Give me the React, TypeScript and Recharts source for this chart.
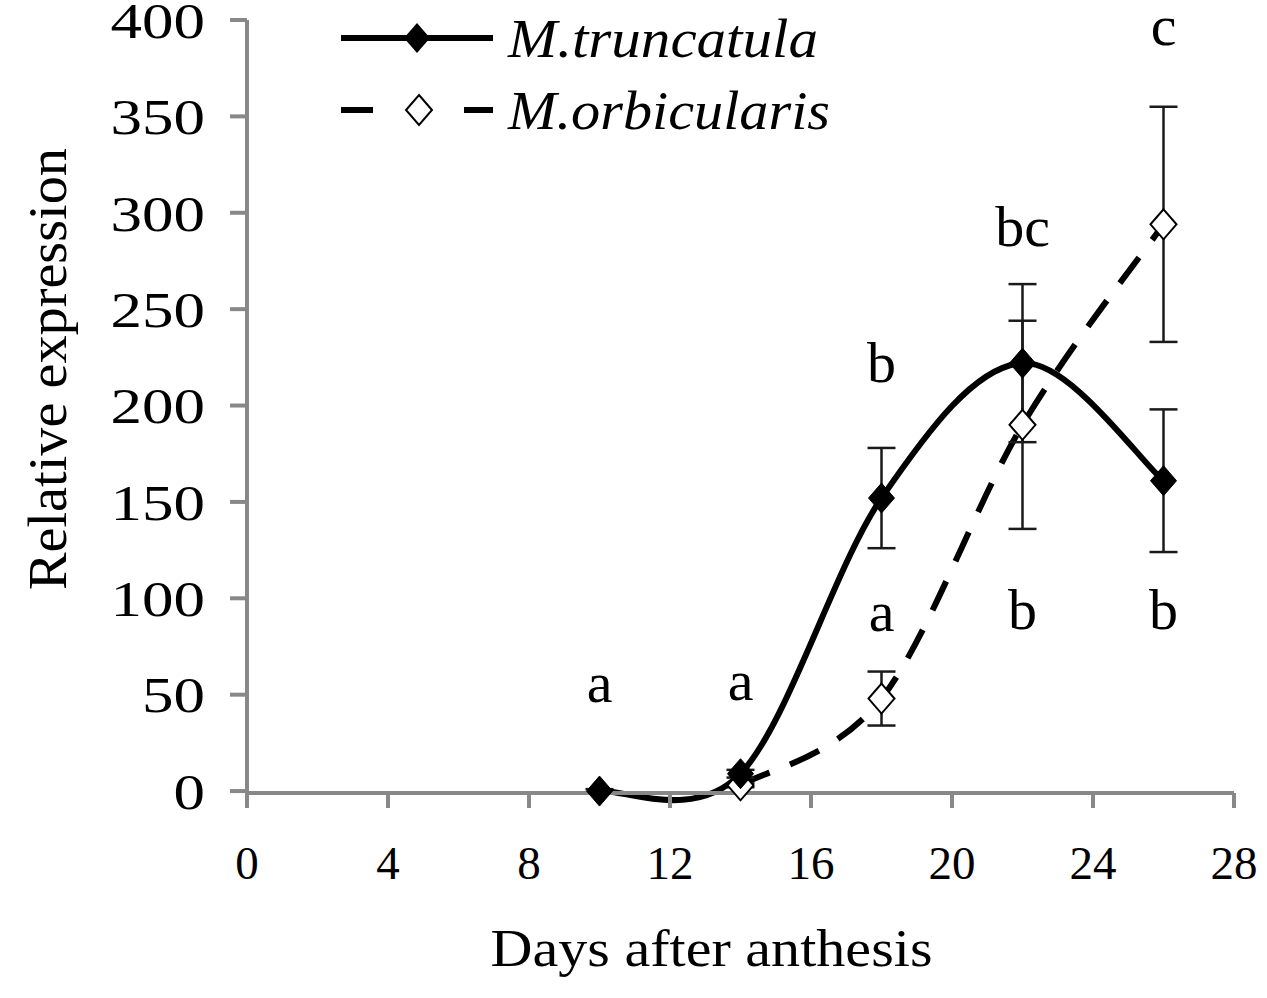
import React from 'react';
import { ComposedChart, Line, Scatter, ErrorBar, XAxis, YAxis, Legend } from 'recharts';

const days = [10, 14, 18, 22, 26];
const truncatula = [0, 9, 152, 222, 161];
const truncatulaErr = [1, 2, 26, 41, 37];
const orbDays = [14, 18, 22, 26];
const orbicularis = [3, 48, 190, 294];
const orbicularisErr = [1, 14, 54, 61];

const letterDays = [10, 14, 18, 18, 22, 22, 26, 26];
const letterValues = [46, 47, 212, 83, 283, 84, 387, 84];
const letterTexts = ['a', 'a', 'b', 'a', 'bc', 'b', 'c', 'b'];

const xTicks = [0, 4, 8, 12, 16, 20, 24, 28];
const yTicks = [0, 50, 100, 150, 200, 250, 300, 350, 400];

const SERIF = '"Liberation Serif", "Times New Roman", serif';
const AXIS_GRAY = '#888888';

const mtRows = days.map((d, i) => ({ day: d, mt: truncatula[i], mtErr: truncatulaErr[i] }));
const moRows = orbDays.map((d, i) => ({ day: d, mo: orbicularis[i], moErr: orbicularisErr[i] }));
const letterRows = letterDays.map((d, i) => ({ day: d, v: letterValues[i], text: letterTexts[i] }));

// excel-like smoothed line (catmull-rom through every point)
const excelSmooth = (context: any) => {
    let pts: number[][] = [];
    return {
        areaStart() {},
        areaEnd() {},
        lineStart() {
            pts = [];
        },
        point(x: number, y: number) {
            pts.push([+x, +y]);
        },
        lineEnd() {
            const n = pts.length;
            if (n === 0) return;
            context.moveTo(pts[0][0], pts[0][1]);
            for (let i = 0; i < n - 1; i++) {
                const p0 = pts[Math.max(i - 1, 0)];
                const p1 = pts[i];
                const p2 = pts[i + 1];
                const p3 = pts[Math.min(i + 2, n - 1)];
                context.bezierCurveTo(
                    p1[0] + (p2[0] - p0[0]) / 6,
                    p1[1] + (p2[1] - p0[1]) / 6,
                    p2[0] - (p3[0] - p1[0]) / 6,
                    p2[1] - (p3[1] - p1[1]) / 6,
                    p2[0],
                    p2[1]
                );
            }
        },
    };
};

const diamond = (cx: number, cy: number, w = 13, h = 15) =>
    `M${cx},${cy - h}L${cx + w},${cy}L${cx},${cy + h}L${cx - w},${cy}Z`;

const FilledDot = (props: any) => {
    const { cx, cy, index } = props;
    if (cx == null || cy == null) return <g key={`f${index}`} />;
    return <path key={`f${index}`} d={diamond(cx, cy)} fill="#000" stroke="#000" strokeWidth={1} />;
};

const OpenDot = (props: any) => {
    const { cx, cy, index } = props;
    if (cx == null || cy == null) return <g key={`o${index}`} />;
    return <path key={`o${index}`} d={diamond(cx, cy)} fill="#fff" stroke="#000" strokeWidth={2} />;
};

const LetterShape = (props: any) => {
    const { cx, cy, payload } = props;
    return (
        <text x={cx} y={cy} textAnchor="middle" fontSize={58} fontFamily={SERIF} fill="#000">
            {payload.text}
        </text>
    );
};

// y tick labels in the original are drawn wide
const YTick = (props: any) => {
    const { x, y, payload } = props;
    const s = String(payload.value);
    return (
        <text
            x={x}
            y={y}
            dy="0.355em"
            textAnchor="end"
            fontSize={50}
            fontFamily={SERIF}
            fill="#000"
            textLength={31.5 * s.length}
            lengthAdjust="spacingAndGlyphs"
        >
            {s}
        </text>
    );
};

const LegendBox = () => (
    <svg width={520} height={140}>
        <line x1={11} y1={38} x2={163} y2={38} stroke="#000" strokeWidth={6} />
        <path d={diamond(87, 38)} fill="#000" />
        <text
            x={178}
            y={57}
            fontSize={54}
            fontStyle="italic"
            fontFamily={SERIF}
            fill="#000"
            textLength={310}
            lengthAdjust="spacingAndGlyphs"
        >
            M.truncatula
        </text>
        <line x1={11} y1={110} x2={43} y2={110} stroke="#000" strokeWidth={6} />
        <line x1={134} y1={110} x2={163} y2={110} stroke="#000" strokeWidth={6} />
        <path d={diamond(89, 110)} fill="#fff" stroke="#000" strokeWidth={2} />
        <text
            x={178}
            y={129}
            fontSize={54}
            fontStyle="italic"
            fontFamily={SERIF}
            fill="#000"
            textLength={322}
            lengthAdjust="spacingAndGlyphs"
        >
            M.orbicularis
        </text>
    </svg>
);

const App: React.FC = () => {
    return (
        <div style={{ position: 'absolute', left: 0, top: 0, background: '#fff' }}>
            <ComposedChart width={1267} height={998} margin={{ top: 20, right: 33, bottom: 0, left: 0 }}>
                <XAxis
                    type="number"
                    dataKey="day"
                    domain={[0, 28]}
                    ticks={xTicks}
                    interval={0}
                    height={205}
                    allowDuplicatedCategory={false}
                    axisLine={{ stroke: AXIS_GRAY, strokeWidth: 4 }}
                    tickLine={{ stroke: AXIS_GRAY, strokeWidth: 4 }}
                    tickSize={15}
                    tickMargin={38}
                    tick={{ fill: '#000', fontSize: 47, fontFamily: SERIF }}
                    label={{
                        content: ({ viewBox }: any) => (
                            <text
                                x={viewBox.x + viewBox.width / 2 - 29}
                                y={966}
                                textAnchor="middle"
                                fontSize={53}
                                fontFamily={SERIF}
                                fill="#000"
                                textLength={442}
                                lengthAdjust="spacingAndGlyphs"
                            >
                                Days after anthesis
                            </text>
                        ),
                    }}
                />
                <YAxis
                    type="number"
                    domain={[0, 400]}
                    ticks={yTicks}
                    interval={0}
                    width={247}
                    axisLine={{ stroke: AXIS_GRAY, strokeWidth: 4 }}
                    tickLine={{ stroke: AXIS_GRAY, strokeWidth: 4 }}
                    tickSize={17}
                    tickMargin={25}
                    tick={<YTick />}
                    label={{
                        content: () => (
                            <text
                                x={66}
                                y={369}
                                transform="rotate(-90 66 369)"
                                textAnchor="middle"
                                fontSize={55}
                                fontFamily={SERIF}
                                fill="#000"
                                textLength={442}
                                lengthAdjust="spacingAndGlyphs"
                            >
                                Relative expression
                            </text>
                        ),
                    }}
                />
                <Legend
                    layout="horizontal"
                    verticalAlign="middle"
                    align="center"
                    content={() => <LegendBox />}
                    wrapperStyle={{ position: 'absolute', left: 330, top: 0, width: 520, height: 140 }}
                />
                <Line
                    data={moRows}
                    dataKey="mo"
                    type={excelSmooth as any}
                    stroke="#000"
                    strokeWidth={6}
                    strokeDasharray="32 22"
                    dot={OpenDot}
                    activeDot={false}
                    isAnimationActive={false}
                >
                    <ErrorBar dataKey="moErr" direction="y" width={14} stroke="#1a1a1a" strokeWidth={2.5} />
                </Line>
                <Line
                    data={mtRows}
                    dataKey="mt"
                    type={excelSmooth as any}
                    stroke="#000"
                    strokeWidth={6}
                    dot={FilledDot}
                    activeDot={false}
                    isAnimationActive={false}
                >
                    <ErrorBar dataKey="mtErr" direction="y" width={14} stroke="#1a1a1a" strokeWidth={2.5} />
                </Line>
                <Scatter data={letterRows} dataKey="v" shape={LetterShape} isAnimationActive={false} />
            </ComposedChart>
        </div>
    );
};

export default App;
